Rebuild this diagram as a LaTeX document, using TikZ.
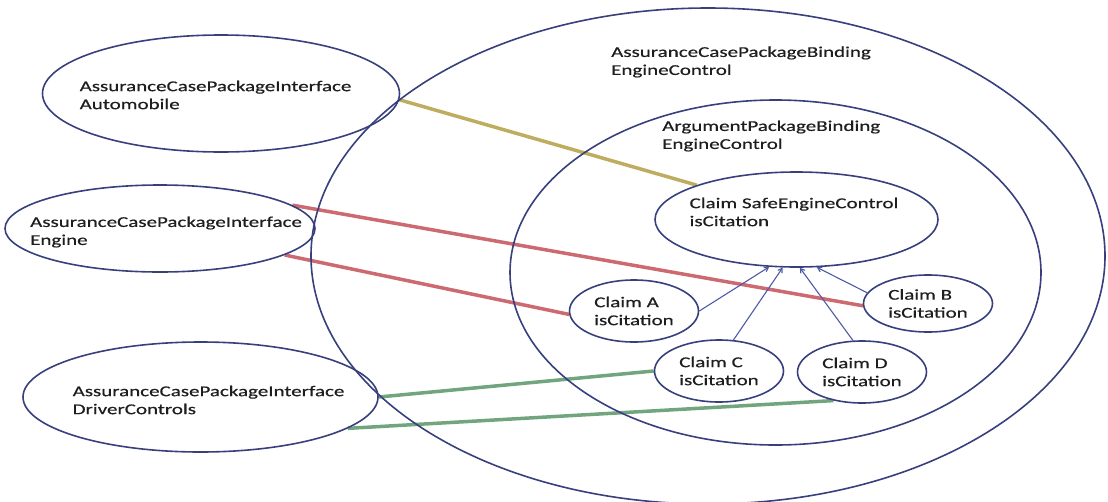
\documentclass[tikz,border=0pt]{standalone}
\usepackage{fontspec}
\setmainfont{Carlito}[FakeStretch=1.4,FakeBold=0.5]
\usepackage{tikz}
\usetikzlibrary{arrows.meta,shapes.geometric,backgrounds}
\definecolor{rimblue}{RGB}{55,64,125}
\definecolor{linkblue}{RGB}{78,90,165}
\definecolor{citeyellow}{RGB}{190,172,95}
\definecolor{citered}{RGB}{205,105,112}
\definecolor{citegreen}{RGB}{112,165,125}
\definecolor{txt}{RGB}{30,30,30}
\tikzset{
  pkg/.style={ellipse, draw=rimblue, line width=1.6pt, inner sep=0pt, align=left,
    text=txt, font=\fontsize{15}{18}\selectfont},
  claim/.style={pkg, minimum width=129pt, minimum height=62pt},
  lbl/.style={inner sep=0pt, align=left, text=txt, font=\fontsize{15}{18}\selectfont},
  cite/.style={line width=3.5pt},
  support/.style={draw=linkblue, line width=1.1pt, -{Straight Barb[length=4pt,width=5pt]}}
}
\begin{document}
\begin{tikzpicture}[x=1pt,y=-1pt]
\useasboundingbox (0,0) rectangle (1108,501);
% bindings
\node[pkg, minimum width=794pt, minimum height=496pt] (acbind) at (708,256) {};
\node[pkg, minimum width=531pt, minimum height=345pt] (argbind) at (775.5,272.5) {};
\node[lbl, anchor=west] (acbindtxt) at (611,62) {AssuranceCasePackageBinding\\EngineControl};
\node[lbl, anchor=west] (argbindtxt) at (662,136) {ArgumentPackageBinding\\EngineControl};
% interfaces
\node[pkg, minimum width=357pt, minimum height=117pt] (ifauto) at (221,93.5) {};
\node[pkg, minimum width=310pt, minimum height=87pt] (ifeng) at (160,228.5) {};
\node[pkg, minimum width=355pt, minimum height=110pt] (ifdrv) at (200.5,397) {};
\node[lbl] (ifautotxt) at (215.5,95) {AssuranceCasePackageInterface\\Automobile};
\node[lbl] (ifengtxt) at (166,232) {AssuranceCasePackageInterface\\Engine};
\node[lbl] (ifdrvtxt) at (208.5,400) {AssuranceCasePackageInterface\\DriverControls};
% claims
\node[pkg, minimum width=283pt, minimum height=95pt] (safe) at (796.5,219.5) {};
\node[lbl] (safetxt) at (794,212) {Claim SafeEngineControl\\isCitation};
\node[claim] (clA) at (634,311) {Claim A\\isCitation};
\node[claim, minimum height=57pt] (clB) at (928,303.5) {Claim B\\isCitation};
\node[claim] (clC) at (719,371) {Claim C\\isCitation};
\node[claim] (clD) at (862,372) {Claim D\\isCitation};
% citations
\begin{pgfonlayer}{background}
\draw[cite, citeyellow] (ifauto.-2) -- (safe.161);
\draw[cite, citered] (ifeng.10) -- (clB.182);
\draw[cite, citered] (ifeng.-12.5) -- (clA.183);
\draw[cite, citegreen] (ifdrv.east) -- (clC.west);
\draw[cite, citegreen] (ifdrv.-12) -- (clD.225);
\end{pgfonlayer}
% support links
\foreach \src/\a/\b in {clA/0/240, clC/65/254, clD/106/274, clB/170/293}
  \draw[support] (\src.\a) -- (safe.\b);
\end{tikzpicture}
\end{document}
